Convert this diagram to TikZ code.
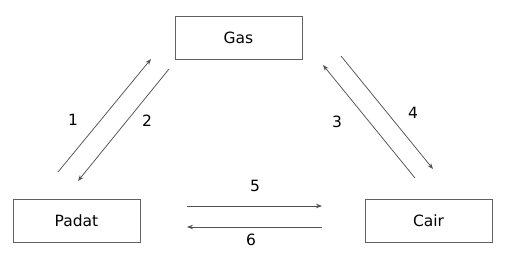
\documentclass[tikz,border=0pt]{standalone}
\usepackage{fontspec}
\setmainfont{DejaVu Sans}
\usetikzlibrary{arrows.meta}
\begin{document}
\begin{tikzpicture}[x=1pt,y=-1pt,
  box/.style={draw=black!62,line width=0.9pt,minimum width=127pt,minimum height=43pt,inner sep=0pt,font=\fontsize{15.5}{18}\selectfont},
  conn/.style={draw=black!68,line width=0.75pt,-{Stealth[length=6pt,width=4.5pt]}},
  lbl/.style={font=\fontsize{15.5}{18}\selectfont,inner sep=0pt}]
\useasboundingbox (0,0) rectangle (517,266);
\node[box] (gas) at (238.5,37.5) {Gas};
\node[box] (padat) at (76.5,220.5) {Padat};
\node[box] (cair) at (428.5,220.5) {Cair};
\coordinate (a1s) at (58,172); \coordinate (a1e) at (151,59);
\coordinate (a2s) at (169,69); \coordinate (a2e) at (78,181);
\coordinate (a3s) at (415,178); \coordinate (a3e) at (323,65);
\coordinate (a4s) at (341,56); \coordinate (a4e) at (433,169);
\coordinate (a5s) at (187,206); \coordinate (a5e) at (322,206);
\coordinate (a6s) at (322,227); \coordinate (a6e) at (187,227);
\draw[conn] (a1s) -- (a1e);
\draw[conn] (a2s) -- (a2e);
\draw[conn] (a3s) -- (a3e);
\draw[conn] (a4s) -- (a4e);
\draw[conn] (a5s) -- (a5e);
\draw[conn] (a6s) -- (a6e);
\node[lbl] (l1) at (73,120) {1};
\node[lbl] (l2) at (147,121) {2};
\node[lbl] (l3) at (337,122) {3};
\node[lbl] (l4) at (413,113) {4};
\node[lbl] (l5) at (255,186) {5};
\node[lbl] (l6) at (251,240) {6};
\end{tikzpicture}
\end{document}
